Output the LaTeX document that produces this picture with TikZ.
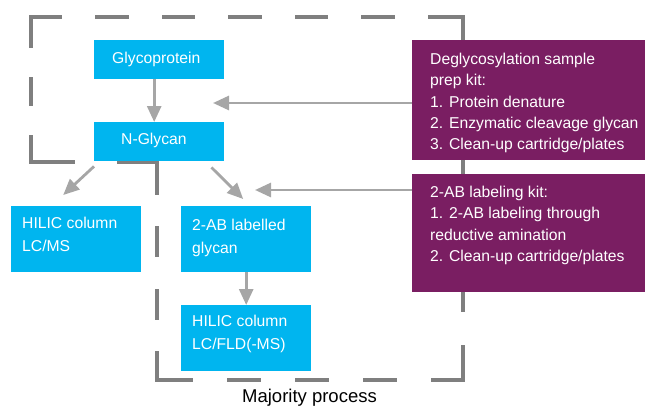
\documentclass[tikz,border=0pt]{standalone}
\usepackage{fontspec}
\setmainfont{Liberation Sans}
\usetikzlibrary{arrows.meta}
\definecolor{cyanbox}{HTML}{00B5EF}
\definecolor{purplebox}{HTML}{7A1E62}
\definecolor{arrowgray}{HTML}{A6A6A6}
\definecolor{dashgray}{HTML}{7F7F7F}
\tikzset{
  cbox/.style={fill=cyanbox, draw=none, inner sep=0pt, anchor=north west, minimum width=130pt},
  pbox/.style={fill=purplebox, draw=none, inner sep=0pt, anchor=north west, minimum width=233pt},
  ctxt/.style={text=white, font=\fontsize{15.7}{22.5}\selectfont, align=left, anchor=north west, inner sep=0pt},
  ptxt/.style={text=white, font=\fontsize{15.7}{21.3}\selectfont, align=left, anchor=north west, inner sep=0pt},
  arr/.style={draw=arrowgray, line width=2.8pt, -{Triangle[length=16pt,width=14pt]}},
  edge/.style={draw=dashgray, line width=4pt, line cap=rect, dash pattern=on #1pt-4pt off #1pt+4pt}
}
\begin{document}
\begin{tikzpicture}[x=1pt,y=-1pt]
\useasboundingbox (0,0) rectangle (645,407);
% dashed outline (each edge starts and ends with a dash)
\draw[edge=33.23] (31,17) -- (463,17);
\draw[edge=33] (463,17) -- (463,380);
\draw[edge=34] (463,380) -- (157,380);
\draw[edge=31.14] (157,380) -- (157,162);
\draw[edge=42] (157,162) -- (31,162);
\draw[edge=29] (31,162) -- (31,17);
% boxes
\node[cbox, minimum height=39pt] (gp) at (94,40) {};
\node[cbox, minimum height=39pt] (ng) at (94,122) {};
\node[cbox, minimum height=66pt] (h1) at (11,206) {};
\node[cbox, minimum height=66pt] (ab) at (181,206) {};
\node[cbox, minimum height=66pt] (h2) at (181,305) {};
\node[pbox, minimum height=120pt] (k1) at (412,40) {};
\node[pbox, minimum height=118pt] (k2) at (412,174) {};
% texts
\node[ctxt] (gpt) at (112,52) {Glycoprotein};
\node[ctxt] (ngt) at (121,133) {N-Glycan};
\node[ctxt] (h1t) at (22,217) {HILIC column\\LC/MS};
\node[ctxt] (abt) at (192,219) {2-AB labelled\\glycan};
\node[ctxt] (h2t) at (192,315) {HILIC column\\LC/FLD(-MS)};
\node[ptxt] (k1t) at (430,53) {Deglycosylation sample\\prep kit:\\1. Protein denature\\2. Enzymatic cleavage glycan\\3. Clean-up cartridge/plates};
\node[ptxt] (k2t) at (430,186) {2-AB labeling kit:\\1. 2-AB labeling through\\reductive amination\\2. Clean-up cartridge/plates};
\node[font=\fontsize{18.5}{22}\selectfont, text=black, inner sep=0pt] (mp) at (309.5,398) {Majority process};
% connectors
\coordinate (t1) at (213,103);
\coordinate (t2) at (255,190);
\draw[arr] ([xshift=-5pt]gp.south) -- ([xshift=-5pt]ng.north);
\draw[arr] (k1.west |- t1) -- (t1);
\draw[arr] ([yshift=-5pt]ng.south west) -- ([xshift=-13pt,yshift=11pt]h1.north);
\draw[arr] ([xshift=-13pt,yshift=-6pt]ng.south east) -- ([xshift=-3pt,yshift=7pt]ab.north);
\draw[arr] (k2.west |- t2) -- (t2);
\draw[arr] (ab.south) -- (h2.north);
\end{tikzpicture}
\end{document}
